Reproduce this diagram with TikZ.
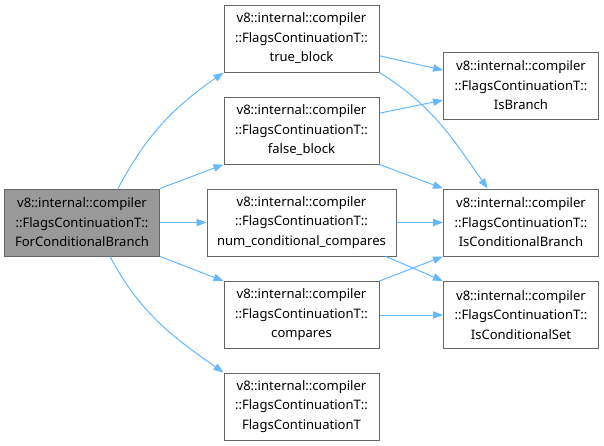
\documentclass[tikz,border=0pt]{standalone}
\usepackage{fontspec}
\setmainfont{Noto Sans}
\usepackage{xcolor}
\usetikzlibrary{arrows.meta, positioning}
\definecolor{callblue}{HTML}{63B8FF}
\definecolor{boxgray}{HTML}{666666}
\definecolor{rootfill}{HTML}{999999}

\begin{document}
\begin{tikzpicture}[
    x=0.75pt, y=-0.75pt,
    fn box/.style={draw=boxgray, line width=0.75pt, fill=#1, inner sep=0pt,
                   minimum width=116.25pt, minimum height=50.25pt,
                   align=center, font=\fontsize{9.8}{14.6}\selectfont},
    fn box/.default=white,
    call/.style={-{Stealth[length=7.5pt, width=5.5pt, inset=0pt]}, callblue, line width=0.75pt},
]
    \useasboundingbox (0,0) rectangle (604,446);

    % Caller
    \node[fn box=rootfill] (root) at (82,222.5) {v8::internal::compiler\\::FlagsContinuationT::\\ForConditionalBranch};

    % Middle column
    \node[fn box] (trueblk) at (301.5,38.5) {v8::internal::compiler\\::FlagsContinuationT::\\true\_block};
    \node[fn box] (falseblk) at (301.5,130.5) {v8::internal::compiler\\::FlagsContinuationT::\\false\_block};
    \node[fn box, minimum width=141.75pt] (numcmp) at (301.5,222.5) {v8::internal::compiler\\::FlagsContinuationT::\\num\_conditional\_compares};
    \node[fn box] (cmps) at (301.5,315) {v8::internal::compiler\\::FlagsContinuationT::\\compares};
    \node[fn box] (ctor) at (301.5,406.5) {v8::internal::compiler\\::FlagsContinuationT::\\FlagsContinuationT};

    % Right column
    \node[fn box] (isbr) at (521,85.5) {v8::internal::compiler\\::FlagsContinuationT::\\IsBranch};
    \node[fn box] (iscbr) at (521,222.5) {v8::internal::compiler\\::FlagsContinuationT::\\IsConditionalBranch};
    \node[fn box] (iscset) at (521,315) {v8::internal::compiler\\::FlagsContinuationT::\\IsConditionalSet};

    % Calls from the caller
    \draw[call] ([xshift=27pt]root.north) to[out=62, in=215] (trueblk.south west);
    \draw[call] (root.north east) -- (falseblk.south west);
    \draw[call] (root.east) -- (numcmp.west);
    \draw[call] (root.south east) -- (cmps.north west);
    \draw[call] ([xshift=21pt]root.south) to[out=-62, in=145] (ctor.north west);

    % Calls into the right column
    \draw[call] ([yshift=-13pt]trueblk.east) -- ([yshift=11.5pt]isbr.west);
    \draw[call] (trueblk.south east) to[out=-32, in=125] ([xshift=-25pt]iscbr.north);
    \draw[call] ([yshift=13pt]falseblk.east) -- ([yshift=-11pt]isbr.west);
    \draw[call] (falseblk.south east) -- (iscbr.north west);
    \draw[call] (numcmp.east) -- (iscbr.west);
    \draw[call] ([xshift=-8pt]numcmp.south east) -- (iscset.north west);
    \draw[call] (cmps.north east) -- (iscbr.south west);
    \draw[call] (cmps.east) -- (iscset.west);
\end{tikzpicture}
\end{document}
